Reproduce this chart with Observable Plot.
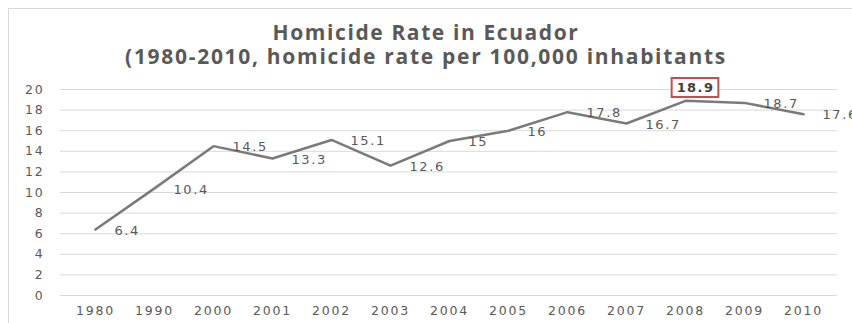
<!DOCTYPE html>
<html><head><meta charset="utf-8">
<script src="https://cdn.jsdelivr.net/npm/d3@7"></script>
<script src="https://cdn.jsdelivr.net/npm/@observablehq/plot@0.6"></script>
<style>
body{margin:0;background:#fff;}
#wrap{position:relative;width:852px;height:323px;overflow:hidden;background:#fff;}
#frame{position:absolute;left:8px;top:8px;width:900px;height:400px;border:1px solid #d9d9d9;box-sizing:border-box;}
#title{position:absolute;left:0;top:0;width:852px;text-align:center;font-family:"Open Sans",sans-serif;font-weight:700;color:#595959;font-size:21px;line-height:24px;padding-top:20px;}
#title .l1{letter-spacing:1.6px;}
#title .l2{letter-spacing:1.7px;}
#chart{position:absolute;left:0;top:75px;}
#chart svg text{font-family:"DejaVu Sans",sans-serif;}
#chart .xax text{letter-spacing:1.8px;}
#chart .yax text{letter-spacing:1.8px;}
#chart .lbl text{letter-spacing:1.6px;}
#chart .hl text{letter-spacing:1.4px;}
</style></head>
<body>
<div id="wrap">
<div id="frame"></div>
<div id="title"><span class="l1">Homicide Rate in Ecuador</span><br><span class="l2">(1980-2010, homicide rate per 100,000 inhabitants</span></div>
<div id="chart"></div>
</div>
<script>
const years = ["1980","1990","2000","2001","2002","2003","2004","2005","2006","2007","2008","2009","2010"];
const rates = [6.4, 10.4, 14.5, 13.3, 15.1, 12.6, 15, 16, 17.8, 16.7, 18.9, 18.7, 17.6];
const yTicks = [0,2,4,6,8,10,12,14,16,18,20];
const highlightYear = "2008";

const data = years.map((y,i)=>({year:y, rate:rates[i]}));

const chart = Plot.plot({
  width: 852,
  height: 248,
  marginLeft: 60,
  marginRight: 15,
  marginTop: 14,
  marginBottom: 28,
  style: {background: "transparent", color: "#595959"},
  x: {type: "point", domain: years, padding: 0.5},
  y: {domain: [0, 20]},
  marks: [
    Plot.ruleY(yTicks, {stroke: "#d9d9d9", strokeWidth: 1}),
    Plot.axisX({tickSize: 0, tickPadding: 11, fontSize: 12.5, fill: "#595959", label: null, className: "xax"}),
    Plot.axisY(yTicks, {tickSize: 0, tickPadding: 16, fontSize: 12.5, fill: "#595959", label: null, className: "yax"}),
    Plot.line(data, {x: "year", y: "rate", stroke: "#7a7a7a", strokeWidth: 2.5}),
    Plot.text(data.filter(d => d.year !== highlightYear), {x: "year", y: "rate", text: d => String(d.rate), dx: 19, dy: 1, textAnchor: "start", fill: "#595959", fontSize: 13, className: "lbl"}),
    Plot.text(data.filter(d => d.year === highlightYear), {x: "year", y: "rate", text: d => String(d.rate), dx: 10, dy: -13, textAnchor: "middle", fill: "#404040", fontSize: 13, fontWeight: 600, className: "hl"})
  ]
});
document.getElementById("chart").appendChild(chart);

// red box around highlighted label, sized from its rendered bounding box
const hl = chart.querySelector("g.hl text");
if (hl) {
  const b = hl.getBBox();
  const t = hl.getAttribute("transform");
  const rect = document.createElementNS("http://www.w3.org/2000/svg", "rect");
  rect.setAttribute("x", b.x - 5);
  rect.setAttribute("y", b.y - 2);
  rect.setAttribute("width", b.width + 9);
  rect.setAttribute("height", b.height + 4);
  rect.setAttribute("fill", "#fff");
  rect.setAttribute("stroke", "#c0504d");
  rect.setAttribute("stroke-width", 2);
  if (t) rect.setAttribute("transform", t);
  hl.parentNode.insertBefore(rect, hl);
}
</script>
</body></html>
